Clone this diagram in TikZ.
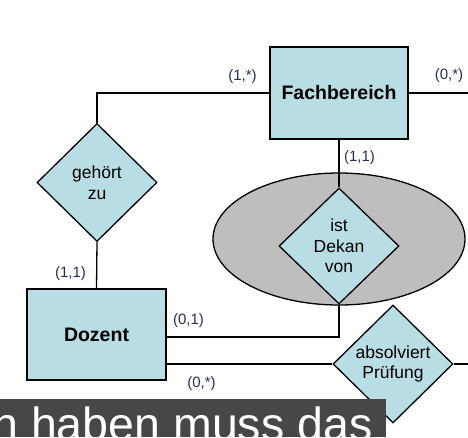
\documentclass[tikz,border=0pt]{standalone}
\usepackage{fontspec}
\setmainfont{Liberation Sans}
\usepackage{xcolor}
\usetikzlibrary{calc,positioning,shapes.geometric}
\definecolor{entblau}{HTML}{B8DDE5}
\definecolor{ovalgrau}{HTML}{BEBEBE}
\definecolor{kardblau}{HTML}{24304F}
\definecolor{bandgrau}{HTML}{474747}
\begin{document}
\begin{tikzpicture}[x=1pt,y=-1pt,line width=1.3pt,
  entity/.style={draw,fill=entblau,rectangle,inner sep=0pt,
    font=\fontsize{19.5}{22}\selectfont\bfseries},
  relation/.style={draw,fill=entblau,diamond,inner sep=0pt,align=center,
    minimum width=120pt,minimum height=118pt,
    font=\fontsize{17.5}{20.5}\selectfont},
  kard/.style={text=kardblau,inner sep=0pt,font=\fontsize{15}{17}\selectfont}]
\useasboundingbox (0,0) rectangle (468,437);
\node[draw,fill=ovalgrau,ellipse,minimum width=252pt,minimum height=132pt] (oval) at (339,239) {};
\node[entity,minimum width=138pt,minimum height=92pt] (fb) at (339,93) {Fachbereich};
\node[entity,minimum width=139pt,minimum height=91pt] (dz) at (96.5,334.5) {Dozent};
\node[relation] (gz) at (97,182.5) {gehört\\zu};
\node[relation,minimum height=116pt] (dk) at (339,246) {ist\\Dekan\\von};
\node[relation] (ap) at (393,364) {absolviert\\Prüfung};
\coordinate (r1) at (468,93);
\coordinate (r2) at (468,364);
\coordinate (knick) at (339,337);
\draw (fb.west) -| (gz.north);
\draw (fb.east) -- (r1);
\draw (fb.south) -- (dk.north);
\draw (gz.south) -- (dz.north);
\draw (dk.south) -- (knick) -- (dz.east |- knick);
\draw (ap.west) -- (dz.east |- ap.west);
\draw (ap.east) -- (r2);
\node[kard] at (242.5,77) {(1,*)};
\node[kard] at (449,76) {(0,*)};
\node[kard] at (359.5,157.5) {(1,1)};
\node[kard] at (70.5,274) {(1,1)};
\node[kard] at (188.5,321) {(0,1)};
\node[kard] at (201.5,384) {(0,*)};
\fill[bandgrau] (0,399) rectangle (386,437);
\begin{scope}
\clip (0,399) rectangle (386,437);
\node[text=white,inner sep=0pt,anchor=base east,font=\fontsize{46.5}{50}\selectfont] (band) at (373,440) {n haben muss das};
\end{scope}
\end{tikzpicture}
\end{document}
